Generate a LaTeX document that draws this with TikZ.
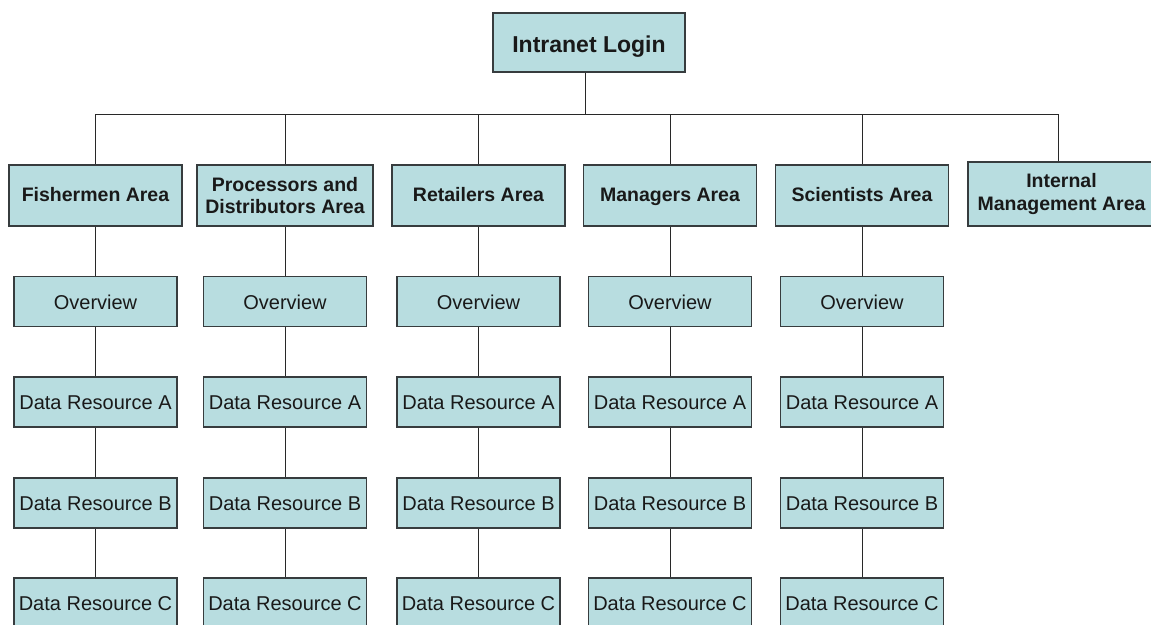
\documentclass[tikz,border=0pt]{standalone}
\usepackage{fontspec}
\setmainfont{Liberation Sans}
\definecolor{boxfill}{RGB}{184,221,224}
\definecolor{boxline}{RGB}{55,60,62}
\definecolor{linecol}{RGB}{40,40,40}
\definecolor{txt}{RGB}{25,25,25}
\begin{document}
\begin{tikzpicture}[x=1pt,y=-1pt,
  box/.style={draw=boxline, fill=boxfill, line width=1.2pt, inner sep=0pt, align=center, text=txt},
  topbox/.style={box, minimum width=192pt, minimum height=59pt, font=\fontsize{23}{27}\selectfont\bfseries, text height=19.5pt, text depth=0.5pt},
  areabox/.style={box, minimum width=173pt, minimum height=61pt, font=\fontsize{19.5}{22.7}\selectfont\bfseries},
  oneline/.style={text height=15pt, text depth=3pt},
  leafbox/.style={box, minimum width=163pt, minimum height=50pt, font=\fontsize{20}{23}\selectfont, text height=17pt, text depth=2pt},
  link/.style={draw=linecol, line width=1pt}]
\useasboundingbox (0,0) rectangle (1151,624);
\clip (0,0) rectangle (1151,624);
\fill[white] (0,0) rectangle (1151,624);

\node[topbox] (login) at (589,42.5) {Intranet Login};
\coordinate (hub) at (585,114);
\coordinate (istem) at (1058,114);

\node[areabox, oneline] (a1) at (95.5,195.5) {Fishermen Area};
\node[areabox, minimum width=176pt] (a2) at (285,195.5) {Processors and\\Distributors Area};
\node[areabox, oneline] (a3) at (478.5,195.5) {Retailers Area};
\node[areabox, oneline] (a4) at (670,195.5) {Managers Area};
\node[areabox, oneline] (a5) at (862,195.5) {Scientists Area};
\node[areabox, minimum width=187pt, minimum height=64pt] (a6) at (1061.5,194) {Internal\\Management Area};

\draw[link] (login.south -| hub) -- (hub);
\draw[link] (hub -| a1.north) -- (istem);
\foreach \i in {1,...,5} {
  \draw[link] (hub -| a\i.north) -- (a\i.north);
}
\draw[link] (istem) -- (istem |- a6.north);

\foreach \i/\x in {1/95.5,2/285,3/478.5,4/670,5/862} {
  \node[leafbox] (o\i) at (\x,301.5) {Overview};
  \node[leafbox] (da\i) at (\x,402) {Data Resource A};
  \node[leafbox] (db\i) at (\x,503) {Data Resource B};
  \node[leafbox] (dc\i) at (\x,603) {Data Resource C};
  \draw[link] (a\i.south) -- (o\i.north);
  \draw[link] (o\i.south) -- (da\i.north);
  \draw[link] (da\i.south) -- (db\i.north);
  \draw[link] (db\i.south) -- (dc\i.north);
}
\end{tikzpicture}
\end{document}
